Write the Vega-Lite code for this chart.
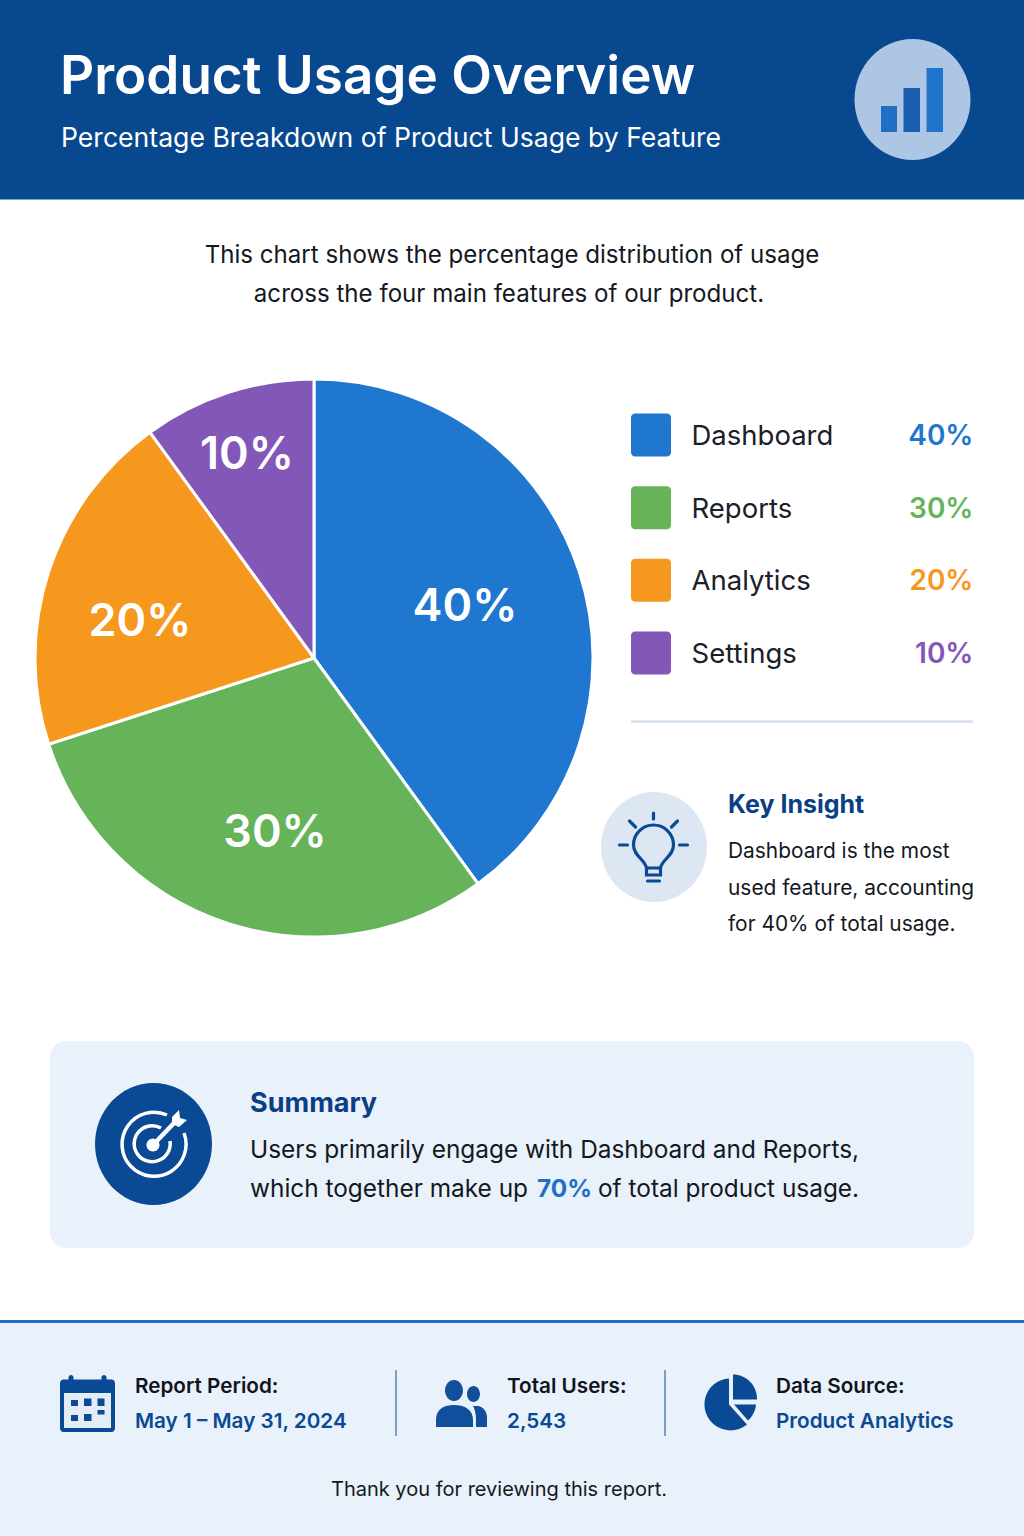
{"$schema":"https://vega.github.io/schema/vega-lite/v6.json","width":1024,"height":1536,"padding":0,"autosize":{"type":"fit","contains":"padding"},"background":"#FFFFFF","config":{"view":{"stroke":null},"text":{"font":"Inter"}},
"data":{"values":[{"anchor":1}]},
"datasets":{"features":[{"feature":"Dashboard","value":40,"label":"40%","order":1},{"feature":"Reports","value":30,"label":"30%","order":2},{"feature":"Analytics","value":20,"label":"20%","order":3},{"feature":"Settings","value":10,"label":"10%","order":4}]},
"layer":[
{"mark":{"type":"rect","color":"#08488F"},"encoding":{"x":{"value":0},"x2":{"value":1024},"y":{"value":0},"y2":{"value":199.5}}},
{"mark":{"type":"text","text":"Product Usage Overview","x":60,"y":78,"align":"left","fontSize":53,"fontWeight":600,"color":"#FFFFFF"}},
{"mark":{"type":"text","text":"Percentage Breakdown of Product Usage by Feature","x":61,"y":139,"align":"left","fontSize":26.6,"fontWeight":400,"color":"#FFFFFF"}},
{"mark":{"type":"point","filled":true,"opacity":1,"size":4,"color":"#ADC6E3","shape":"M-58 0A58 60.5 0 1 0 58 0A58 60.5 0 1 0 -58 0Z"},"encoding":{"x":{"value":912.5},"y":{"value":99.5}}},
{"mark":{"type":"rect","color":"#1F6FC4"},"encoding":{"x":{"value":881},"x2":{"value":897},"y":{"value":106},"y2":{"value":132}}},
{"mark":{"type":"rect","color":"#1A5FB0"},"encoding":{"x":{"value":903.5},"x2":{"value":920},"y":{"value":88},"y2":{"value":132}}},
{"mark":{"type":"rect","color":"#1F74CC"},"encoding":{"x":{"value":926.5},"x2":{"value":943},"y":{"value":68},"y2":{"value":132}}},
{"mark":{"type":"text","text":"This chart shows the percentage distribution of usage","x":512,"y":256,"align":"center","fontSize":24.1,"color":"#14181F"}},
{"mark":{"type":"text","text":"across the four main features of our product.","x":509,"y":295,"align":"center","fontSize":24.1,"color":"#14181F"}},
{"data":{"name":"features"},"mark":{"type":"arc","outerRadius":279,"stroke":"#FFFFFF","strokeWidth":3},"encoding":{"x":{"value":314},"y":{"value":658},"theta":{"field":"value","type":"quantitative","stack":true},"order":{"field":"order","type":"ordinal"},"color":{"field":"feature","type":"nominal","scale":{"domain":["Dashboard","Reports","Analytics","Settings"],"range":["#1F77D0","#66B35A","#F5981D","#8257B7"]},"legend":null}}},
{"data":{"name":"features"},"transform":[{"filter":"datum.feature==='Dashboard'"}],"mark":{"type":"text","fontSize":45,"fontWeight":600,"color":"#FFFFFF","align":"center","baseline":"middle"},"encoding":{"text":{"field":"label"},"x":{"value":465},"y":{"value":607}}},
{"data":{"name":"features"},"transform":[{"filter":"datum.feature==='Reports'"}],"mark":{"type":"text","fontSize":45,"fontWeight":600,"color":"#FFFFFF","align":"center","baseline":"middle"},"encoding":{"text":{"field":"label"},"x":{"value":275},"y":{"value":833}}},
{"data":{"name":"features"},"transform":[{"filter":"datum.feature==='Analytics'"}],"mark":{"type":"text","fontSize":45,"fontWeight":600,"color":"#FFFFFF","align":"center","baseline":"middle"},"encoding":{"text":{"field":"label"},"x":{"value":140},"y":{"value":622}}},
{"data":{"name":"features"},"transform":[{"filter":"datum.feature==='Settings'"}],"mark":{"type":"text","fontSize":45,"fontWeight":600,"color":"#FFFFFF","align":"center","baseline":"middle"},"encoding":{"text":{"field":"label"},"x":{"value":247},"y":{"value":455}}},
{"data":{"name":"features"},"mark":{"type":"point","filled":true,"opacity":1,"size":4,"shape":"M-16 -21.5H16A4 4 0 0 1 20 -17.5V17.5A4 4 0 0 1 16 21.5H-16A4 4 0 0 1 -20 17.5V-17.5A4 4 0 0 1 -16 -21.5Z"},"encoding":{"x":{"value":651},"y":{"field":"feature","type":"nominal","sort":null,"scale":{"type":"point","domain":["Dashboard","Reports","Analytics","Settings"],"range":[435,653],"padding":0},"axis":null},"color":{"field":"feature","type":"nominal","legend":null}}},
{"data":{"name":"features"},"mark":{"type":"text","align":"left","baseline":"middle","dy":2,"fontSize":27.5,"color":"#1A2029"},"encoding":{"x":{"value":691.5},"y":{"field":"feature","type":"nominal","axis":null},"text":{"field":"feature"}}},
{"data":{"name":"features"},"mark":{"type":"text","align":"right","baseline":"middle","dy":2,"fontSize":28,"fontWeight":600},"encoding":{"x":{"value":973.5},"y":{"field":"feature","type":"nominal","axis":null},"text":{"field":"label"},"color":{"field":"feature","type":"nominal","legend":null}}},
{"mark":{"type":"rule","color":"#D3DEEE","strokeWidth":2.5},"encoding":{"x":{"value":631},"x2":{"value":973},"y":{"value":721.5}}},
{"mark":{"type":"point","filled":true,"opacity":1,"size":4,"color":"#DDE7F4","shape":"M-53 0A53 55 0 1 0 53 0A53 55 0 1 0 -53 0Z"},"encoding":{"x":{"value":654},"y":{"value":847}}},
{"mark":{"type":"point","filled":false,"opacity":1,"size":4,"strokeWidth":3.2,"color":"#0A4A94","strokeCap":"round","shape":"M-7 21C-8 13 -20 9 -20 -2A20 20 0 0 1 20 -2C20 9 8 13 7 21ZM-7 21V28H7V21M-6 34H6M0 -34V-28M-24 -26L-18 -20M24 -26L18 -20M-34 -2H-26M26 -2H34"},"encoding":{"x":{"value":653.5},"y":{"value":847}}},
{"mark":{"type":"text","text":"Key Insight","x":728,"y":805,"align":"left","fontSize":25,"fontWeight":700,"color":"#0A3F85"}},
{"mark":{"type":"text","text":"Dashboard is the most","x":728,"y":852,"align":"left","fontSize":20.9,"color":"#14181F"}},
{"mark":{"type":"text","text":"used feature, accounting","x":728,"y":889,"align":"left","fontSize":20.9,"color":"#14181F"}},
{"mark":{"type":"text","text":"for 40% of total usage.","x":728,"y":925,"align":"left","fontSize":20.9,"color":"#14181F"}},
{"mark":{"type":"rect","color":"#E9F1FA","cornerRadius":16},"encoding":{"x":{"value":50},"x2":{"value":974},"y":{"value":1041},"y2":{"value":1248}}},
{"mark":{"type":"point","filled":true,"opacity":1,"size":4,"color":"#0A4A94","shape":"M-58.5 0A58.5 61 0 1 0 58.5 0A58.5 61 0 1 0 -58.5 0Z"},"encoding":{"x":{"value":153.5},"y":{"value":1144}}},
{"mark":{"type":"point","filled":false,"opacity":1,"size":4,"strokeWidth":3.5,"color":"#FFFFFF","shape":"M14 -30A32 32 0 1 0 31 -12M8 -17A18 18 0 1 0 17 -4"},"encoding":{"x":{"value":153},"y":{"value":1145}}},
{"mark":{"type":"point","filled":false,"opacity":1,"size":4,"strokeWidth":4.5,"color":"#FFFFFF","shape":"M0 0L22 -23"},"encoding":{"x":{"value":153},"y":{"value":1145}}},
{"mark":{"type":"point","filled":true,"opacity":1,"size":4,"color":"#FFFFFF","shape":"M0 -6.5A6.5 6.5 0 0 1 0 6.5A6.5 6.5 0 0 1 0 -6.5ZM19 -28L26 -35L27 -27L34 -25L26 -18L19 -21Z"},"encoding":{"x":{"value":153},"y":{"value":1145}}},
{"mark":{"type":"text","text":"Summary","x":250,"y":1104,"align":"left","fontSize":27,"fontWeight":700,"color":"#0A3F85"}},
{"mark":{"type":"text","text":"Users primarily engage with Dashboard and Reports,","x":250,"y":1150.5,"align":"left","fontSize":24.4,"color":"#14181F"}},
{"mark":{"type":"text","text":"which together make up","x":250,"y":1189.5,"align":"left","fontSize":24.4,"color":"#14181F"}},
{"mark":{"type":"text","text":"70%","x":537,"y":1189.5,"align":"left","fontSize":24.4,"fontWeight":700,"color":"#1F6FC4"}},
{"mark":{"type":"text","text":"of total product usage.","x":598,"y":1189.5,"align":"left","fontSize":24.4,"color":"#14181F"}},
{"mark":{"type":"rect","color":"#E9F1FA"},"encoding":{"x":{"value":0},"x2":{"value":1024},"y":{"value":1321},"y2":{"value":1536}}},
{"mark":{"type":"rect","color":"#1E6FC6"},"encoding":{"x":{"value":0},"x2":{"value":1024},"y":{"value":1320},"y2":{"value":1323}}},
{"mark":{"type":"rule","color":"#7F9DC6","strokeWidth":2},"encoding":{"x":{"value":396},"y":{"value":1370},"y2":{"value":1436}}},
{"mark":{"type":"rule","color":"#7F9DC6","strokeWidth":2},"encoding":{"x":{"value":665},"y":{"value":1370},"y2":{"value":1436}}},
{"mark":{"type":"point","filled":true,"opacity":1,"size":4,"color":"#0A4A94","shape":"M-24 -26H-19V-28A2.5 2.5 0 0 1 -14 -28V-26H14V-28A2.5 2.5 0 0 1 19 -28V-26H24A3.5 3.5 0 0 1 27.5 -22.5V23A3.5 3.5 0 0 1 24 26.5H-24A3.5 3.5 0 0 1 -27.5 23V-22.5A3.5 3.5 0 0 1 -24 -26Z"},"encoding":{"x":{"value":87.5},"y":{"value":1405.5}}},
{"mark":{"type":"rect","color":"#E4ECF6"},"encoding":{"x":{"value":64},"x2":{"value":111},"y":{"value":1393},"y2":{"value":1428}}},
{"mark":{"type":"point","filled":true,"opacity":1,"size":4,"color":"#0A4A94","shape":"M-16.5 -5.5H-9.5V0.5H-16.5ZM-3.5 -7H4V0.5H-3.5ZM10 -7H17V0.5H10ZM-16.5 9.5H-9.5V15.5H-16.5ZM-3.5 8.5H4V15.5H-3.5ZM10 4.5H17V9H10Z"},"encoding":{"x":{"value":87.5},"y":{"value":1405.5}}},
{"mark":{"type":"point","filled":true,"opacity":1,"size":4,"color":"#0F4F9C","shape":"M-17 -13.5A9 10.5 0 0 1 1 -13.5A9 10.5 0 0 1 -17 -13.5ZM-26 23V16C-26 5 -18 1 -8 1C2 1 11 5 11 16V23ZM5 -10A6.5 8 0 0 1 18 -10A6.5 8 0 0 1 5 -10ZM11 2H16C22 3 25 8 25 14V23H14V15C14 10 13 6 11 2Z"},"encoding":{"x":{"value":462},"y":{"value":1404}}},
{"mark":{"type":"point","filled":true,"opacity":1,"size":4,"color":"#0A4A94","shape":"M-1 -26V0L17 20A26 26 0 1 1 -1 -26ZM3 -30A24 24 0 0 1 27 -5H3ZM4 0H26A24 24 0 0 1 18 16Z"},"encoding":{"x":{"value":730},"y":{"value":1404.5}}},
{"mark":{"type":"text","text":"Report Period:","x":135,"y":1387,"align":"left","fontSize":20.7,"fontWeight":600,"color":"#10151C"}},
{"mark":{"type":"text","text":"May 1 – May 31, 2024","x":135,"y":1422,"align":"left","fontSize":20.7,"fontWeight":600,"color":"#0A4A94"}},
{"mark":{"type":"text","text":"Total Users:","x":507,"y":1387,"align":"left","fontSize":20.7,"fontWeight":600,"color":"#10151C"}},
{"mark":{"type":"text","text":"2,543","x":507,"y":1422,"align":"left","fontSize":20.7,"fontWeight":600,"color":"#0A4A94"}},
{"mark":{"type":"text","text":"Data Source:","x":776,"y":1387,"align":"left","fontSize":20.7,"fontWeight":600,"color":"#10151C"}},
{"mark":{"type":"text","text":"Product Analytics","x":776,"y":1422,"align":"left","fontSize":20.7,"fontWeight":600,"color":"#0A4A94"}},
{"mark":{"type":"text","text":"Thank you for reviewing this report.","x":499,"y":1490,"align":"center","fontSize":20,"color":"#14181F"}}
]}
